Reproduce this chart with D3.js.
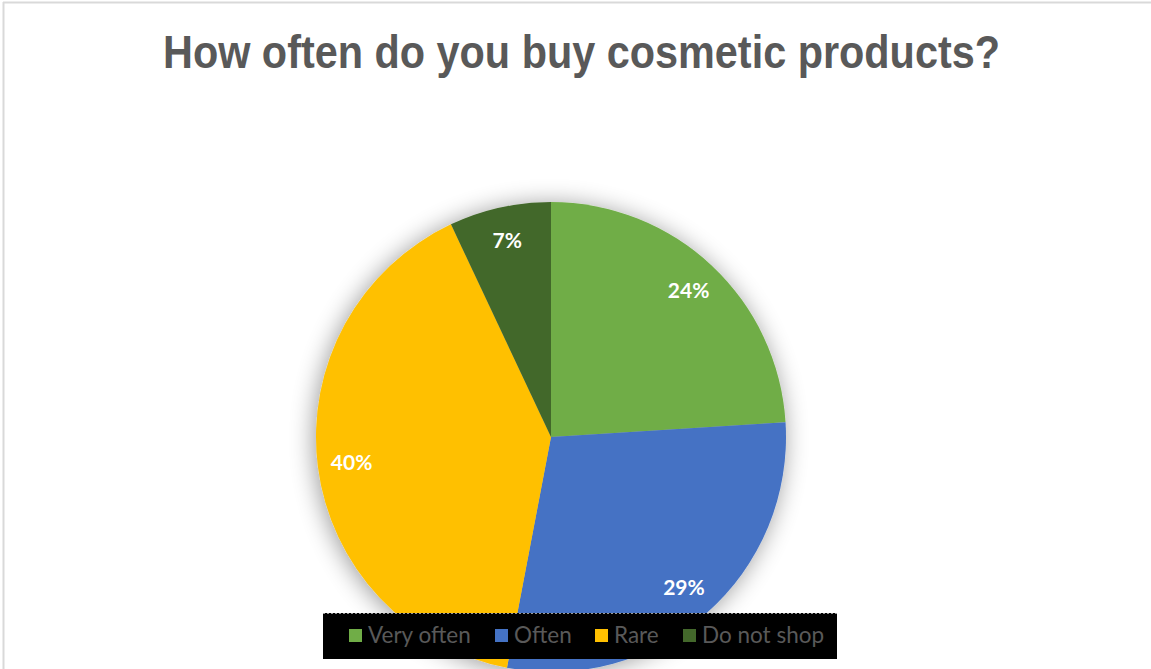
<!DOCTYPE html>
<html>
<head>
<meta charset="utf-8">
<script src="https://cdn.jsdelivr.net/npm/d3@7"></script>
<style>
  html, body { margin: 0; padding: 0; background: #ffffff; }
  svg { display: block; }
</style>
</head>
<body>
<svg id="chart" width="1151" height="669"></svg>
<script>
// Survey answers and their shares (percent)
const categories = ["Very often", "Often", "Rare", "Do not shop"];
const shares = [24, 29, 40, 7];
const colors = ["#70AD47", "#4472C4", "#FFC000", "#43682B"];
const title = "How often do you buy cosmetic products?";

const W = 1151, H = 669;
const svg = d3.select("#chart");

// Soft shadow for the pie
const defs = svg.append("defs");
const f = defs.append("filter").attr("id", "pieShadow")
  .attr("x", "-25%").attr("y", "-25%").attr("width", "150%").attr("height", "150%");
f.append("feGaussianBlur").attr("in", "SourceAlpha").attr("stdDeviation", 12).attr("result", "b");
f.append("feOffset").attr("in", "b").attr("dx", -2).attr("dy", 2).attr("result", "o");
f.append("feComponentTransfer").attr("in", "o").attr("result", "s")
  .append("feFuncA").attr("type", "linear").attr("slope", 0.4);
const m = f.append("feMerge");
m.append("feMergeNode").attr("in", "s");
m.append("feMergeNode").attr("in", "SourceGraphic");

// Chart frame (top and left edges)
svg.append("line").attr("x1", 3).attr("x2", W).attr("y1", 2.5).attr("y2", 2.5)
  .attr("stroke", "#d9d9d9").attr("stroke-width", 2);
svg.append("line").attr("x1", 3.5).attr("x2", 3.5).attr("y1", 2).attr("y2", H)
  .attr("stroke", "#d9d9d9").attr("stroke-width", 2);

// Title (condensed bold)
svg.append("text")
  .attr("x", 163).attr("y", 68)
  .attr("font-family", "'Liberation Sans Narrow', 'Arial Narrow', 'Liberation Sans', sans-serif")
  .attr("font-weight", "bold")
  .attr("font-size", 47)
  .attr("fill", "#595959")
  .attr("textLength", 837)
  .attr("lengthAdjust", "spacingAndGlyphs")
  .text(title);

// Pie
const cx = 551, cy = 437, R = 235;
const pie = d3.pie().sort(null).value(d => d.v);
const data = categories.map((c, i) => ({ c, v: shares[i], col: colors[i] }));
const arcs = pie(data);
const arc = d3.arc().innerRadius(0).outerRadius(R);
const labelArc = d3.arc().innerRadius(201).outerRadius(201);

const g = svg.append("g").attr("transform", `translate(${cx},${cy})`);
g.append("g").attr("filter", "url(#pieShadow)")
  .selectAll("path").data(arcs).join("path")
  .attr("d", arc)
  .attr("fill", d => d.data.col);

g.selectAll("text.lbl").data(arcs).join("text")
  .attr("class", "lbl")
  .attr("transform", d => `translate(${labelArc.centroid(d)})`)
  .attr("text-anchor", "middle")
  .attr("dy", "0.36em")
  .attr("font-family", "Lato, 'Open Sans', sans-serif")
  .attr("font-weight", "bold")
  .attr("font-size", 21)
  .attr("fill", "#ffffff")
  .text(d => d.data.v + "%");

// Legend on black band
const lg = svg.append("g");
lg.append("rect").attr("x", 323).attr("y", 613).attr("width", 514).attr("height", 46).attr("fill", "#000000");
lg.append("line").attr("x1", 323).attr("x2", 837).attr("y1", 613.5).attr("y2", 613.5)
  .attr("stroke", "#9a9a9a").attr("stroke-width", 1).attr("stroke-dasharray", "2,2");

const legendX = [349, 495, 595, 683];
categories.forEach((c, i) => {
  lg.append("rect").attr("x", legendX[i]).attr("y", 629).attr("width", 13).attr("height", 13)
    .attr("fill", colors[i]);
  lg.append("text").attr("x", legendX[i] + 19).attr("y", 643)
    .attr("font-family", "Lato, 'Open Sans', sans-serif")
    .attr("font-size", 22.5)
    .attr("fill", "#595959")
    .text(c);
});
</script>
</body>
</html>
